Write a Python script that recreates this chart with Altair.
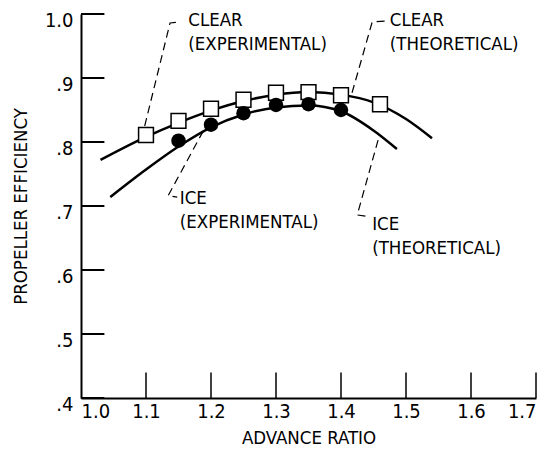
import altair as alt
import pandas as pd

FONT = "DejaVu Sans Condensed"

# Theoretical curves
clear_theo_x = [1.03, 1.10, 1.15, 1.20, 1.25, 1.30, 1.35, 1.40, 1.45, 1.50, 1.54]
clear_theo_y = [0.772, 0.808, 0.830, 0.849, 0.864, 0.874, 0.878, 0.874, 0.862, 0.836, 0.806]
ice_theo_x = [1.045, 1.10, 1.15, 1.20, 1.25, 1.30, 1.35, 1.40, 1.45, 1.486]
ice_theo_y = [0.714, 0.757, 0.793, 0.823, 0.843, 0.854, 0.857, 0.848, 0.818, 0.789]

# Experimental points
clear_exp_x = [1.10, 1.15, 1.20, 1.25, 1.30, 1.35, 1.40, 1.46]
clear_exp_y = [0.811, 0.833, 0.852, 0.866, 0.877, 0.878, 0.873, 0.859]
ice_exp_x = [1.15, 1.20, 1.25, 1.30, 1.35, 1.40]
ice_exp_y = [0.802, 0.827, 0.845, 0.858, 0.859, 0.850]

# Axis ticks
x_ticks = [1.0, 1.1, 1.2, 1.3, 1.4, 1.5, 1.6, 1.7]
y_ticks = [0.4, 0.5, 0.6, 0.7, 0.8, 0.9, 1.0]

# Annotation labels
label_text = ["CLEAR\n(EXPERIMENTAL)", "CLEAR\n(THEORETICAL)", "ICE\n(EXPERIMENTAL)", "ICE\n(THEORETICAL)"]
label_x = [1.165, 1.475, 1.152, 1.448]
label_y = [0.991, 0.991, 0.7125, 0.672]

# Leader lines (dashed)
leader_group = ["ce", "ce", "ce", "ct", "ct", "ct", "ie", "ie", "ie", "it", "it", "it"]
leader_order = [0, 1, 2, 0, 1, 2, 0, 1, 2, 0, 1, 2]
leader_x = [1.098, 1.137, 1.152, 1.417, 1.448, 1.468, 1.188, 1.134, 1.148, 1.457, 1.425, 1.438]
leader_y = [0.825, 0.986, 0.9875, 0.877, 0.9875, 0.989, 0.817, 0.716, 0.714, 0.803, 0.686, 0.684]

xs = alt.Scale(domain=[1.0, 1.7], nice=False, zero=False)
ys = alt.Scale(domain=[0.4, 1.0], nice=False, zero=False)

ct = pd.DataFrame({"x": clear_theo_x, "y": clear_theo_y})
it = pd.DataFrame({"x": ice_theo_x, "y": ice_theo_y})
ce = pd.DataFrame({"x": clear_exp_x, "y": clear_exp_y})
ie = pd.DataFrame({"x": ice_exp_x, "y": ice_exp_y})
labels = pd.DataFrame({"t": label_text, "x": label_x, "y": label_y})
leaders = pd.DataFrame({"g": leader_group, "o": leader_order, "x": leader_x, "y": leader_y})
ytk = pd.DataFrame({"y": y_ticks, "x": [1.0] * len(y_ticks), "x2": [1.036] * len(y_ticks)})
xtk = pd.DataFrame({"x": x_ticks[1:], "y": [0.4] * (len(x_ticks) - 1), "y2": [0.44] * (len(x_ticks) - 1)})

X = alt.X("x:Q", scale=xs, title="ADVANCE RATIO",
          axis=alt.Axis(values=x_ticks, format=".1f", ticks=False, grid=False,
                        labelPadding=3, titlePadding=7))
Y = alt.Y("y:Q", scale=ys, title="PROPELLER EFFICIENCY",
          axis=alt.Axis(values=y_ticks, ticks=False, grid=False,
                        labelExpr="datum.value >= 1 ? '1.0' : replace(format(datum.value, '.1f'), '0.', '.')",
                        labelPadding=8, labelBaseline="middle", labelOffset=6, titlePadding=14))

base_line = alt.Chart(ct).mark_line(color="black", strokeWidth=2.5, interpolate="monotone").encode(x=X, y=Y)
ice_line = alt.Chart(it).mark_line(color="black", strokeWidth=2.5, interpolate="monotone").encode(x="x:Q", y="y:Q")
sq = alt.Chart(ce).mark_square(filled=True, fill="white", stroke="black", strokeWidth=1.5, size=220, opacity=1).encode(x="x:Q", y="y:Q")
circ = alt.Chart(ie).mark_circle(color="black", size=210, opacity=1).encode(x="x:Q", y="y:Q")
lead = alt.Chart(leaders).mark_line(color="black", strokeWidth=1.2, strokeDash=[8, 5]).encode(
    x="x:Q", y="y:Q", detail="g:N", order="o:Q")
txt = alt.Chart(labels).mark_text(align="left", baseline="middle", fontSize=18.5, font=FONT,
                                  lineBreak="\n", lineHeight=24, color="black").encode(
    x="x:Q", y="y:Q", text="t:N")
yt = alt.Chart(ytk).mark_rule(color="black", strokeWidth=2).encode(x="x:Q", x2="x2:Q", y="y:Q")
xt = alt.Chart(xtk).mark_rule(color="black", strokeWidth=1.5).encode(x="x:Q", y="y:Q", y2="y2:Q")

chart = alt.layer(base_line, ice_line, lead, sq, circ, txt, yt, xt).properties(
    width=455, height=384,
    autosize=alt.AutoSizeParams(type="none"),
    padding={"left": 81, "top": 14, "right": 12, "bottom": 58},
    background="white",
).configure_view(stroke=None).configure_axis(
    domainColor="black", domainWidth=2, labelColor="black", titleColor="black",
    labelFont=FONT, titleFont=FONT, labelFontSize=20, titleFontSize=18.5,
    titleFontWeight="normal",
)

chart.save("out.html", embed_options={"renderer": "svg", "actions": False})
